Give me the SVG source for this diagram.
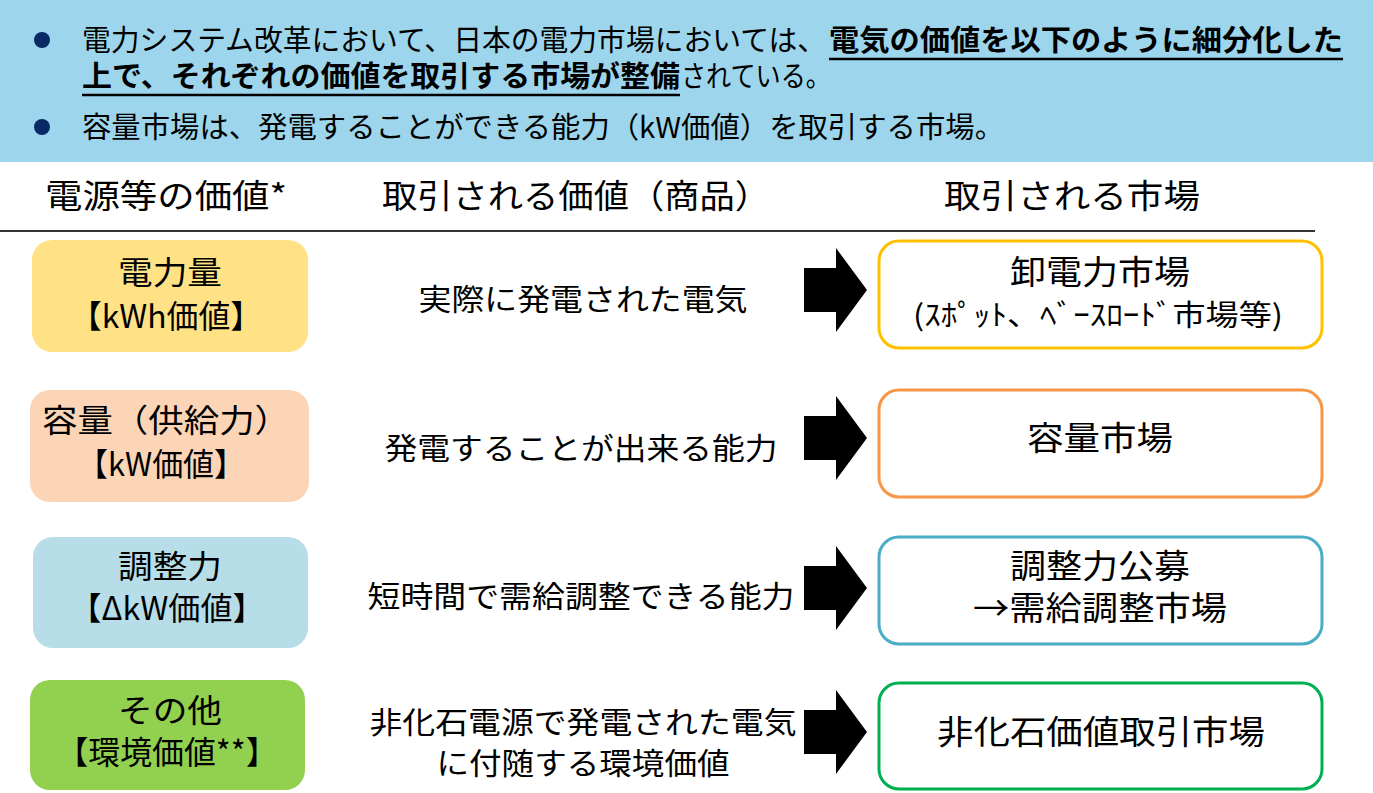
<svg xmlns="http://www.w3.org/2000/svg" xmlns:xlink="http://www.w3.org/1999/xlink" width="1373" height="793" viewBox="0 0 1373 793">
<style>
text{font-family:"Noto Sans CJK JP","Noto Sans CJK SC",sans-serif;fill:#000}
.hd{font-size:29px}
.hb{font-size:29px;font-weight:bold}
.col{font-size:33px;text-anchor:middle}
.lt{font-size:32px;text-anchor:middle}
.mt{font-size:30px;text-anchor:middle}
.rt{font-size:33px;text-anchor:middle}
.rs{font-size:29px;text-anchor:middle}
.lbox{stroke:none}
.rbox{fill:#fff;stroke-width:3}
.ul{stroke:#000;stroke-width:2.5}
</style>
<defs>
<path id="arr" d="M804,268 H836 V248 L867,290 L836,332 V312 H804 Z" fill="#000"/>
</defs>
<g id="header">
<rect x="0" y="0" width="1373" height="162" fill="#9DD6EC"/>
<circle cx="42" cy="40" r="8" fill="#0A2A66"/>
<circle cx="42" cy="127" r="8" fill="#0A2A66"/>
<text class="hd" x="82" y="51" textLength="744" lengthAdjust="spacingAndGlyphs">電力システム改革において、日本の電力市場においては、</text>
<text class="hb" x="829" y="51" textLength="514" lengthAdjust="spacingAndGlyphs">電気の価値を以下のように細分化した</text>
<line class="ul" x1="829" y1="59" x2="1343" y2="59"/>
<text class="hb" x="82" y="87" textLength="598" lengthAdjust="spacingAndGlyphs">上で、それぞれの価値を取引する市場が整備</text>
<line class="ul" x1="82" y1="95" x2="680" y2="95"/>
<text class="hd" x="681" y="87" textLength="150" lengthAdjust="spacingAndGlyphs">されている。</text>
<text class="hd" x="82" y="138" textLength="922" lengthAdjust="spacingAndGlyphs">容量市場は、発電することができる能力（kW価値）を取引する市場。</text>
</g>
<g id="columns">
<text class="col" x="166" y="208" textLength="242" lengthAdjust="spacingAndGlyphs">電源等の価値*</text>
<text class="col" x="576" y="208" textLength="388" lengthAdjust="spacingAndGlyphs">取引される価値（商品）</text>
<text class="col" x="1072" y="208" textLength="256" lengthAdjust="spacingAndGlyphs">取引される市場</text>
<line x1="0" y1="231" x2="1315" y2="231" stroke="#333" stroke-width="2"/>
</g>
<g id="value-kwh">
<rect class="lbox" x="32" y="240" width="276" height="112" rx="20" fill="#FFE285"/>
<text class="lt" x="170" y="284" textLength="104" lengthAdjust="spacingAndGlyphs">電力量</text>
<text class="lt" x="166" y="328" textLength="192" lengthAdjust="spacingAndGlyphs">【kWh価値】</text>
</g>
<g id="value-kw">
<rect class="lbox" x="30" y="390" width="279" height="112" rx="20" fill="#FBD5B6"/>
<text class="lt" x="166" y="432" textLength="248" lengthAdjust="spacingAndGlyphs">容量（供給力）</text>
<text class="lt" x="161" y="476" textLength="168" lengthAdjust="spacingAndGlyphs">【kW価値】</text>
</g>
<g id="value-dkw">
<rect class="lbox" x="33" y="537" width="275" height="111" rx="20" fill="#B7DDE8"/>
<text class="lt" x="170" y="578" textLength="104" lengthAdjust="spacingAndGlyphs">調整力</text>
<text class="lt" x="167" y="620" textLength="195" lengthAdjust="spacingAndGlyphs">【ΔkW価値】</text>
</g>
<g id="value-env">
<rect class="lbox" x="30" y="680" width="275" height="110" rx="20" fill="#92D050"/>
<text class="lt" x="170" y="722" textLength="104" lengthAdjust="spacingAndGlyphs">その他</text>
<text class="lt" x="167" y="764" textLength="221" lengthAdjust="spacingAndGlyphs">【環境価値**】</text>
</g>
<g id="goods">
<text class="mt" x="583" y="310" textLength="329" lengthAdjust="spacingAndGlyphs">実際に発電された電気</text>
<text class="mt" x="581" y="459" textLength="393" lengthAdjust="spacingAndGlyphs">発電することが出来る能力</text>
<text class="mt" x="581" y="607" textLength="427" lengthAdjust="spacingAndGlyphs">短時間で需給調整できる能力</text>
<text class="mt" x="583" y="733" textLength="427" lengthAdjust="spacingAndGlyphs">非化石電源で発電された電気</text>
<text class="mt" x="583" y="774" textLength="293" lengthAdjust="spacingAndGlyphs">に付随する環境価値</text>
</g>
<g id="connectors">
<use xlink:href="#arr" href="#arr"/>
<use xlink:href="#arr" href="#arr" transform="translate(0,148)"/>
<use xlink:href="#arr" href="#arr" transform="translate(0,298)"/>
<use xlink:href="#arr" href="#arr" transform="translate(0,442)"/>
</g>
<g id="market-wholesale">
<rect class="rbox" x="879" y="241" width="443" height="107" rx="20" stroke="#FFC000"/>
<text class="rt" x="1100" y="284" textLength="180" lengthAdjust="spacingAndGlyphs">卸電力市場</text>
<text class="rs" x="1098" y="326" textLength="370" lengthAdjust="spacingAndGlyphs">(ｽﾎﾟｯﾄ、ﾍﾞｰｽﾛｰﾄﾞ市場等)</text>
</g>
<g id="market-capacity">
<rect class="rbox" x="879" y="390" width="443" height="107" rx="20" stroke="#F79646"/>
<text class="rt" x="1100" y="450" textLength="146" lengthAdjust="spacingAndGlyphs">容量市場</text>
</g>
<g id="market-balancing">
<rect class="rbox" x="879" y="537" width="443" height="107" rx="20" stroke="#4BACC6"/>
<text class="rt" x="1100" y="578" textLength="180" lengthAdjust="spacingAndGlyphs">調整力公募</text>
<text class="rt" x="1100" y="620" textLength="254" lengthAdjust="spacingAndGlyphs">→需給調整市場</text>
</g>
<g id="market-nonfossil">
<rect class="rbox" x="879" y="683" width="443" height="106" rx="20" stroke="#00B050"/>
<text class="rt" x="1101" y="744" textLength="328" lengthAdjust="spacingAndGlyphs">非化石価値取引市場</text>
</g>
</svg>
